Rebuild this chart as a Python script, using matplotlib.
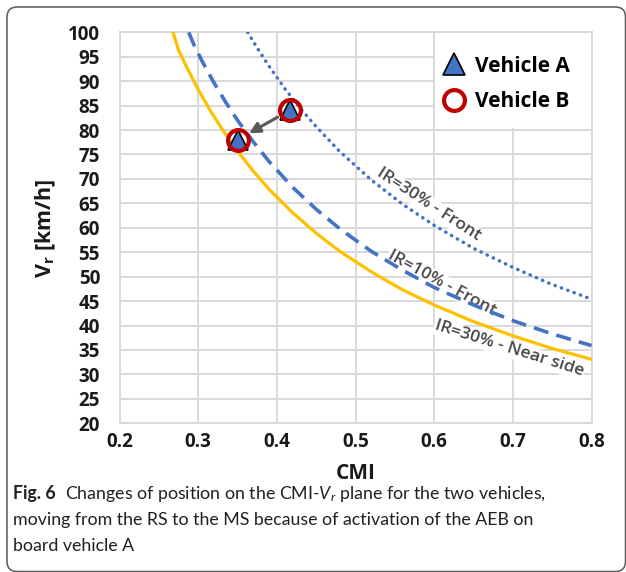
import matplotlib
matplotlib.use("Agg")
import matplotlib.pyplot as plt
from matplotlib.lines import Line2D
from matplotlib.patches import FancyBboxPatch, Rectangle
from matplotlib.transforms import IdentityTransform

CAP_FAMILY = 'Lato'

plt.rcParams['mathtext.fontset'] = 'custom'
plt.rcParams['mathtext.rm'] = 'Open Sans'
plt.rcParams['mathtext.bf'] = 'Open Sans:bold'
plt.rcParams['mathtext.it'] = CAP_FAMILY + ':italic'

# ---- data -------------------------------------------------------------
# IR=30% - Near side (solid yellow)
cmi_near30 = [0.268, 0.275, 0.285, 0.30, 0.315, 0.33, 0.35, 0.37, 0.39,
              0.42, 0.45, 0.48, 0.52, 0.56, 0.60, 0.65, 0.70, 0.75, 0.80]
v_near30 = [100.0, 96.4, 93.0, 88.3, 84.1, 80.3, 75.7, 71.6, 67.9,
            63.1, 58.9, 55.2, 51.0, 47.3, 44.2, 40.8, 37.9, 35.3, 33.1]

# IR=10% - Front (dashed blue)
cmi_front10 = [0.288, 0.295, 0.305, 0.32, 0.335, 0.35, 0.37, 0.39, 0.42,
               0.45, 0.48, 0.52, 0.56, 0.60, 0.65, 0.70, 0.75, 0.80]
v_front10 = [100.0, 97.3, 94.1, 89.7, 85.7, 82.0, 77.6, 73.6, 68.3,
             63.8, 59.8, 55.2, 51.3, 47.8, 44.2, 41.0, 38.3, 35.9]

# IR=30% - Front (dotted blue)
cmi_front30 = [0.363, 0.375, 0.39, 0.41, 0.43, 0.45, 0.48, 0.52, 0.56,
               0.60, 0.65, 0.70, 0.75, 0.80]
v_front30 = [100.0, 96.8, 93.1, 88.5, 84.4, 80.7, 75.6, 69.8, 64.8,
             60.5, 55.8, 51.9, 48.4, 45.4]

# vehicle positions: before (RS) and after (MS) AEB activation
veh_a_cmi = [0.417, 0.350]
veh_a_v = [84.1, 78.0]
veh_b_cmi = [0.417, 0.350]
veh_b_v = [84.1, 78.0]

x_ticks = [0.2, 0.3, 0.4, 0.5, 0.6, 0.7, 0.8]
y_ticks = list(range(20, 101, 5))

curve_labels = ['IR=30% - Front', 'IR=10% - Front', 'IR=30% - Near side']
label_pos = [(0.5925, 64.7), (0.6096, 48.7), (0.695, 35.2)]
label_rot = [-33.0, -28.5, -17.5]

# ---- figure -----------------------------------------------------------
W, H = 626, 572
fig = plt.figure(figsize=(W / 100, H / 100), dpi=100)
fig.patch.set_facecolor('white')

# rounded frame around chart and caption
frame = FancyBboxPatch((7, 0.5), 618.5, 564.5,
                       boxstyle='round,pad=0,rounding_size=10',
                       transform=IdentityTransform(), fc='none',
                       ec='#5a5a5a', lw=1.1)
fig.add_artist(frame)

ax_l, ax_r, ax_t, ax_b = 119.5, 591.5, 32.3, 423.3
ax = fig.add_axes([ax_l / W, 1 - ax_b / H, (ax_r - ax_l) / W, (ax_b - ax_t) / H])
ax.set_xlim(0.2, 0.8)
ax.set_ylim(20, 100)
ax.set_xticks(x_ticks)
ax.set_yticks(y_ticks)
ax.set_xticklabels([f'{t:.1f}' for t in x_ticks])
ax.set_yticklabels([str(t) for t in y_ticks])
ax.set_axisbelow(True)
ax.grid(True, color='#d9d9d9', lw=1.4)
for sp in ax.spines.values():
    sp.set_color('#d9d9d9')
    sp.set_linewidth(1.4)
ax.tick_params(length=0, labelsize=13.5, colors='#1a1a1a')
ax.tick_params(axis='y', pad=14)
ax.tick_params(axis='x', pad=6.2)
for lab in ax.get_xticklabels() + ax.get_yticklabels():
    lab.set_fontfamily('Open Sans')
    lab.set_fontweight('bold')

ax.set_xlabel('CMI', fontsize=15, fontweight='bold', family='Open Sans',
              color='#1a1a1a', labelpad=8.3)
ax.set_ylabel(r'$\mathbf{V_r}$ [km/h]', fontsize=15.5, fontweight='bold',
              family='Open Sans', color='#1a1a1a')
ax.yaxis.set_label_coords(-0.13, 0.5)

# curves
ax.plot(cmi_near30, v_near30, color='#FFC000', lw=2.3, zorder=3,
        solid_joinstyle='round')
ax.plot(cmi_front10, v_front10, color='#4472C4', lw=2.6, dashes=(4.2, 2.3),
        zorder=3)
ax.plot(cmi_front30, v_front30, color='#4472C4', lw=2.5, dashes=(0.1, 1.85),
        dash_capstyle='round', zorder=3)

for s, (x, y), r in zip(curve_labels, label_pos, label_rot):
    ax.text(x, y, s, rotation=r, rotation_mode='anchor', ha='center',
            va='center', fontsize=12.5, family='Open Sans', fontweight='semibold',
            color='#474747', bbox=dict(fc='white', ec='none', pad=0.5), zorder=2.5)

# vehicle markers
ax.plot(veh_a_cmi, veh_a_v, ls='none', marker='^', ms=15, mfc='#4472C4',
        mec='black', mew=1.2, zorder=5)
ax.plot(veh_b_cmi, veh_b_v, ls='none', marker='o', ms=15, mfc='none',
        mec='#C00000', mew=3.0, zorder=6)

# arrow from initial to final position
ax.annotate('', xy=(veh_a_cmi[1], veh_a_v[1]), xytext=(veh_a_cmi[0], veh_a_v[0]),
            arrowprops=dict(arrowstyle='-|>', color='#595959', lw=2.2,
                            mutation_scale=16, shrinkA=10.5, shrinkB=9.5),
            zorder=4)

# legend on a white patch
ax.add_patch(Rectangle(((435 - ax_l) / (ax_r - ax_l), 1 - (128 - ax_t) / (ax_b - ax_t)),
                       (ax_r - 435) / (ax_r - ax_l), (128 - ax_t) / (ax_b - ax_t),
                       transform=ax.transAxes, fc='white', ec='none', zorder=1))
handles = [Line2D([], [], ls='none', marker='^', ms=15.5, mfc='#4472C4', mec='black', mew=1.2),
           Line2D([], [], ls='none', marker='o', ms=15, mfc='none', mec='#C00000', mew=3.0)]
ax.legend(handles, ['Vehicle A', 'Vehicle B'], loc='upper left',
          bbox_to_anchor=((444 - ax_l) / (ax_r - ax_l), 1 - (55.5 - ax_t) / (ax_b - ax_t)),
          borderaxespad=0, borderpad=0, frameon=False, handlelength=1.0,
          handletextpad=0.5, labelspacing=0.7,
          prop=dict(family='Open Sans', weight='bold', size=15))

# caption
cap_font = dict(family=CAP_FAMILY, size=12.75, color='#231f20')
t1 = fig.text(13 / W, 1 - 498.5 / H, 'Fig. 6', fontweight='bold', va='baseline', **cap_font)
ann = fig.text(13 / W, 1 - 498.5 / H,
               '  Changes of position on the CMI-$\\mathit{V_r}$ plane for the two vehicles,',
               va='baseline', **cap_font)
fig.canvas.draw()
ann.set_x(t1.get_window_extent().x1 / W)
fig.text(13 / W, 1 - 524.8 / H,
         'moving from the RS to the MS because of activation of the AEB on',
         va='baseline', **cap_font)
fig.text(13 / W, 1 - 551 / H, 'board vehicle A', va='baseline', **cap_font)

fig.savefig('out.png', dpi=100, facecolor='white')
